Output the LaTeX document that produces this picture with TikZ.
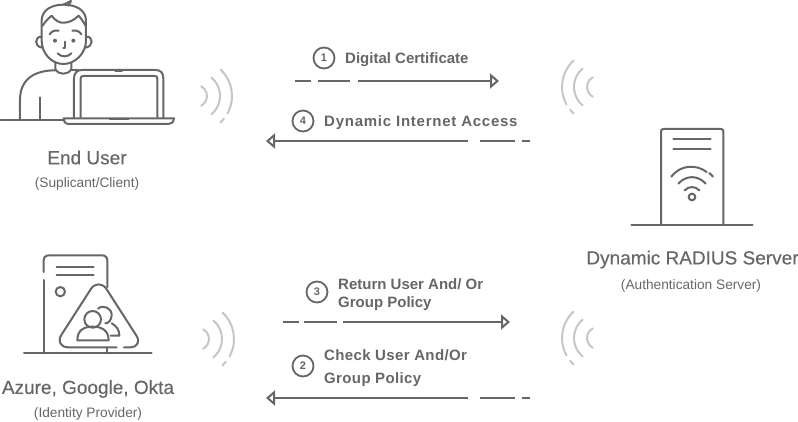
\documentclass[tikz,border=0pt]{standalone}
\usepackage{fontspec}
\setmainfont{Liberation Sans}
\newfontface\boldplain{Liberation Sans Bold}
\newfontface\boldspaced[LetterSpace=5]{Liberation Sans Bold}
\newfontface\boldmid[LetterSpace=2.5]{Liberation Sans Bold}
\newfontface\medium[FakeBold=0.25]{Liberation Sans}
\usetikzlibrary{arrows.meta,calc}
\definecolor{ink}{HTML}{666666}
\definecolor{wave}{HTML}{C6C6C6}
\tikzset{
  icon/.style={draw=ink,line width=2pt,line cap=round,line join=round},
  wavearc/.style={draw=wave,line width=2pt,line cap=round},
  flow/.style={draw=ink,line width=2pt,-{Triangle[open,length=9pt,width=15pt,line width=2pt]}},
  num/.style={circle,draw=ink,line width=1.8pt,minimum size=21pt,inner sep=0pt,text=ink,font=\boldplain\fontsize{11}{12}\selectfont},
  steplabel/.style={anchor=west,inner sep=0pt,text=ink,font=\boldplain\fontsize{15}{17}\selectfont},
  title/.style={inner sep=0pt,text=ink,font=\medium\fontsize{19}{21}\selectfont},
  sub/.style={inner sep=0pt,text=ink,font=\fontsize{13.7}{15}\selectfont}
}
\newcommand{\waves}[2]{%
  \begin{scope}[shift={#1},xscale=#2]
    \draw[wavearc] (-62:11) arc[start angle=-62,end angle=62,radius=11];
    \draw[wavearc] (-50:24) arc[start angle=-50,end angle=50,radius=24];
    \draw[wavearc] (-47:36) arc[start angle=-47,end angle=29,radius=36];
    \draw[wavearc] (39:36) arc[start angle=39,end angle=47,radius=36];
  \end{scope}}
\begin{document}
\begin{tikzpicture}[x=1pt,y=-1pt]
\useasboundingbox (0,0) rectangle (798,422);

% End user icon
\begin{scope}[scale=1/3]
  \draw[icon] (125,108) -- (125,62) .. controls (125,30) and (155,14) .. (190,14) .. controls (228,14) and (258,30) .. (258,62) -- (258,122) .. controls (258,160) and (225,192) .. (190,192) .. controls (155,192) and (125,160) .. (125,122) -- cycle;
  \draw[icon] (190,14) -- (213,3) -- (206,17);
  \draw[icon] (127,78) .. controls (138,62) and (148,52) .. (155,47) .. controls (165,62) and (180,70) .. (192,68) .. controls (208,68) and (222,60) .. (236,47) .. controls (243,55) and (250,65) .. (257,78);
  \draw[icon] (149,103) .. controls (155,93) and (165,90) .. (176,92);
  \draw[icon] (217,92) .. controls (228,90) and (238,93) .. (244,103);
  \fill[ink] (165,122) circle (6);
  \fill[ink] (220,122) circle (6);
  \draw[icon] (196,125) -- (196,143) -- (190,143);
  \draw[icon] (173,160) .. controls (182,172) and (205,172) .. (214,160);
  \draw[icon] (125,110) .. controls (105,108) and (100,140) .. (127,143);
  \draw[icon] (258,110) .. controls (280,108) and (282,140) .. (256,143);
  \draw[icon] (166,190) -- (166,207) .. controls (175,226) and (205,226) .. (214,207) -- (214,190);
  \draw[icon] (166,211) .. controls (100,211) and (60,240) .. (60,300) -- (60,360);
  \draw[icon] (214,211) -- (236,211);
  \draw[icon] (120,292) -- (120,360);
  \draw[icon] (2,361) -- (190,361);
  \draw[icon] (222,354) -- (222,235) .. controls (222,218) and (232,210) .. (246,210) -- (466,210) .. controls (482,210) and (490,218) .. (490,235) -- (490,354);
  \draw[icon] (242,352) -- (242,236) .. controls (242,230) and (245,228) .. (250,228) -- (464,228) .. controls (470,228) and (472,230) .. (472,236) -- (472,352);
  \draw[icon] (191,355) -- (522,355) .. controls (520,368) and (514,372) .. (505,372) -- (208,372) .. controls (198,372) and (192,368) .. (191,355);
  \draw[icon] (346,214) -- (366,214);
  \draw[icon] (329,358) -- (385,358);
\end{scope}
\node[title] (enduser) at (87,157.5) {End User};
\node[sub] (enduserSub) at (87,183.5) {(Suplicant/Client)};

% Identity provider icon
\begin{scope}[shift={(0,240)},scale=1/3]
  \draw[icon] (131,96) -- (131,62) .. controls (131,52) and (137,46) .. (147,46) -- (306,46) .. controls (316,46) and (322,52) .. (322,62) -- (322,142);
  \draw[icon] (131,120) -- (131,340);
  \draw[icon] (170,80) -- (281,80);
  \draw[icon] (170,106) -- (281,106);
  \draw[icon] (181,155) circle (14);
  \draw[icon] (350,322) -- (205,322) .. controls (182,322) and (172,304) .. (184,285) -- (272,148) .. controls (284,128) and (308,128) .. (320,148) -- (408,285) .. controls (422,304) and (412,322) .. (392,322) -- (372,322);
  \draw[icon] (278,238) circle (25);
  \draw[icon] (232,301) .. controls (232,270) and (252,260) .. (278,260) .. controls (304,260) and (326,270) .. (326,301) -- cycle;
  \draw[icon] (294,206) .. controls (310,192) and (336,205) .. (335,226) .. controls (334,240) and (326,250) .. (316,250);
  \draw[icon] (335,250) .. controls (350,258) and (358,270) .. (358,287) -- (332,287);
  \draw[icon] (320,322) -- (320,340);
  \draw[icon] (72,340) -- (455,340);
\end{scope}
\node[title] (idp) at (88,389) {Azure, Google, Okta};
\node[sub] (idpSub) at (88,413.5) {(Identity Provider)};

% RADIUS server icon
\begin{scope}[shift={(550,50)},scale=1/3]
  \draw[icon] (333,524) -- (333,245) .. controls (333,240) and (335,237) .. (340,237) -- (513,237) .. controls (518,237) and (520,240) .. (520,245) -- (520,524);
  \draw[icon] (370,268) -- (482,268);
  \draw[icon] (370,296) -- (482,296);
  \draw[icon] (426,441) circle (10);
  \draw[icon] (404,421) .. controls (416,408) and (436,408) .. (448,421);
  \draw[icon] (385,401) .. controls (408,375) and (444,375) .. (467,401);
  \draw[icon] (364,380) .. controls (392,343) and (440,343) .. (470,366);
  \draw[icon] (478,369) -- (489,380);
  \draw[icon] (244,526) -- (608,526);
\end{scope}
\node[title] (radius) at (692.5,259.5) {Dynamic RADIUS Server};
\node[sub] (radiusSub) at (691,285.5) {(Authentication Server)};

% Radio waves
\waves{(196,96)}{1}
\waves{(198,339)}{1}
\waves{(598,87)}{-1}
\waves{(598,338)}{-1}

% Connectors
\coordinate (a1s) at (295,81);  \coordinate (a1e) at (499,81);
\coordinate (a4s) at (530,141); \coordinate (a4e) at (266,141);
\coordinate (a3s) at (283,322); \coordinate (a3e) at (510,322);
\coordinate (a2s) at (530,398); \coordinate (a2e) at (266,398);
\draw[flow,dash pattern=on 16pt off 7pt on 32pt off 8pt on 400pt] (a1s) -- (a1e);
\draw[flow,dash pattern=on 8pt off 7pt on 35pt off 12pt on 400pt] (a4s) -- (a4e);
\draw[flow,dash pattern=on 16pt off 5pt on 33pt off 6pt on 400pt] (a3s) -- (a3e);
\draw[flow,dash pattern=on 8pt off 7pt on 35pt off 12pt on 400pt] (a2s) -- (a2e);

% Step labels
\node[num] (n1) at (324,58) {1};
\node[steplabel] (l1) at (345,60) {Digital Certificate};
\node[num] (n4) at (303,121) {4};
\node[steplabel] (l4) at (324,123) {\boldspaced Dynamic Internet Access};
\node[num] (n3) at (317,292) {3};
\node[steplabel] (l3a) at (338,284) {Return User And/ Or};
\node[steplabel] (l3b) at (338,304) {Group Policy};
\node[num] (n2) at (303,366) {2};
\node[steplabel] (l2a) at (324,355.5) {\boldmid Check User And/Or};
\node[steplabel] (l2b) at (324,380) {\boldmid Group Policy};
\end{tikzpicture}
\end{document}
